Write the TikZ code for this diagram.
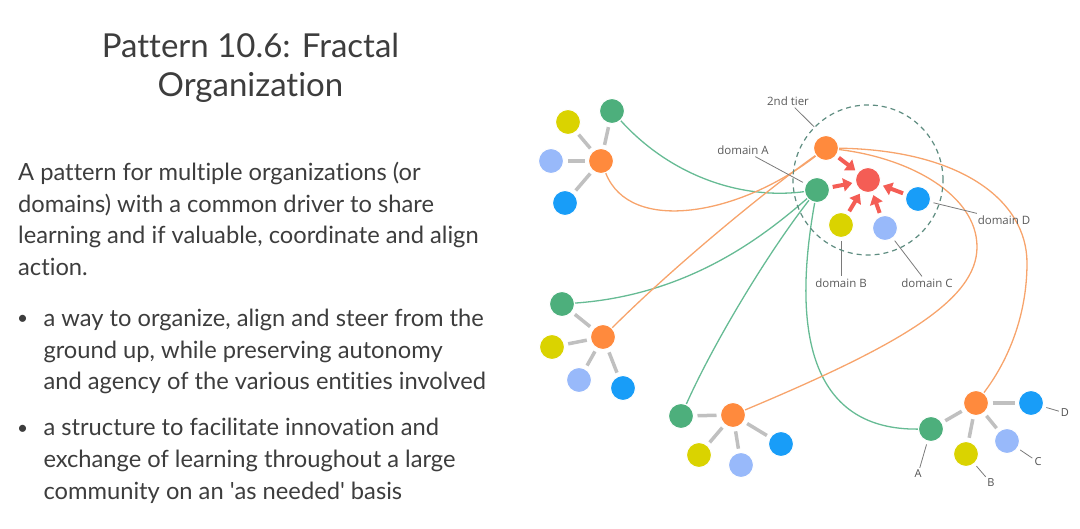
\documentclass[tikz,border=0pt]{standalone}
\usepackage{fontspec}
\setmainfont{Lato}[Ligatures={NoCommon}]
\newfontfamily\lblfont{Open Sans}
\usetikzlibrary{arrows.meta,backgrounds}
\definecolor{txt}{HTML}{3D3D3D}
\definecolor{cgreen}{HTML}{4DAF7C}
\definecolor{corange}{HTML}{FF8A3D}
\definecolor{cyellow}{HTML}{DAD300}
\definecolor{clblue}{HTML}{98B9FA}
\definecolor{cblue}{HTML}{189DF8}
\definecolor{cred}{HTML}{F45D55}
\definecolor{lgreen}{HTML}{66BB94}
\definecolor{lorange}{HTML}{F7A46C}
\definecolor{spokegray}{HTML}{C0C0C0}
\definecolor{ringcol}{HTML}{5E8C80}
\definecolor{lblline}{HTML}{7A7A7A}
\definecolor{lbltxt}{HTML}{5A5A5A}
\begin{document}
\begin{tikzpicture}[x=1pt,y=-1pt,
  body/.style={font=\fontsize{23.7}{30}\selectfont, text=txt, inner sep=0pt, anchor=base west},
  bul/.style={font=\fontsize{19}{30}\selectfont, text=txt, inner sep=0pt, anchor=base},
  ttl/.style={font=\fontsize{33}{38}\selectfont, text=txt, inner sep=0pt, anchor=base},
  dot/.style={circle, minimum size=25pt, inner sep=0pt, draw=white, line width=1pt},
  gdot/.style={dot, fill=cgreen},
  odot/.style={dot, fill=corange},
  ydot/.style={dot, fill=cyellow},
  ldot/.style={dot, fill=clblue},
  bdot/.style={dot, fill=cblue},
  rdot/.style={dot, fill=cred},
  spoke/.style={draw=spokegray, line width=3.5pt, shorten <=3.5pt, shorten >=3.5pt},
  glink/.style={draw=lgreen, line width=1.3pt},
  olink/.style={draw=lorange, line width=1.3pt},
  rarr/.style={draw=cred, line width=4pt, -{Triangle[length=9pt,width=13pt]}, shorten <=3pt, shorten >=3pt},
  lbl/.style={font=\lblfont\fontsize{11.5}{13}\selectfont, text=lbltxt, inner sep=2pt},
  sl/.style={font=\lblfont\fontsize{11}{13}\selectfont, text=txt!90, inner sep=2pt},
  lline/.style={draw=lblline, line width=0.8pt, shorten <=3pt},
  ring/.style={circle, minimum size=150pt, inner sep=0pt, draw=ringcol, line width=1.2pt, dash pattern=on 5pt off 4pt}
]
\useasboundingbox (0,0) rectangle (1080,529);

% ---- text ----
\node[ttl] (t1) at (250.5,57.3) {Pattern 10.6: Fractal};
\node[ttl] (t2) at (250.5,96.7) {Organization};
\node[body] (p1) at (18,180.7) {A pattern for multiple organizations (or};
\node[body] (p2) at (18,212.5) {domains) with a common driver to share};
\node[body] (p3) at (18,244) {learning and if valuable, coordinate and align};
\node[body] (p4) at (18,275.5) {action.};
\node[bul] (b1) at (22.7,325) {•};
\node[body] (b1a) at (43.3,326.7) {a way to organize, align and steer from the};
\node[body] (b1b) at (43.3,358.5) {ground up, while preserving autonomy};
\node[body] (b1c) at (43.3,390) {and agency of the various entities involved};
\node[bul] (b2) at (22.7,434.5) {•};
\node[body] (b2a) at (43.3,436) {a structure to facilitate innovation and};
\node[body] (b2b) at (43.3,467.5) {exchange of learning throughout a large};
\node[body] (b2c) at (43.3,499) {community on an \textquotesingle as needed\textquotesingle{} basis};

% ---- central ring ----
\node[ring] (ring) at (868,180) {};
\node[odot] (Oc) at (826,148) {};
\node[rdot] (R) at (868,180) {};
\node[gdot] (Gc) at (817,190) {};
\node[bdot] (Bc) at (918,199) {};
\node[ydot] (Yc) at (841,225) {};
\node[ldot] (Lc) at (885,228) {};

% ---- cluster 1 ----
\node[gdot] (G1) at (612,111) {};
\node[ydot] (Y1) at (568,122) {};
\node[ldot] (L1) at (551,161) {};
\node[odot] (O1) at (601,161) {};
\node[bdot] (B1) at (565,203) {};
% ---- cluster 2 ----
\node[gdot] (G2) at (562,304) {};
\node[odot] (O2) at (603,337) {};
\node[ydot] (Y2) at (552,347) {};
\node[ldot] (L2) at (579,380) {};
\node[bdot] (B2) at (623,388) {};
% ---- cluster 3 ----
\node[gdot] (G3) at (681,416) {};
\node[odot] (O3) at (733,415) {};
\node[ydot] (Y3) at (699,455) {};
\node[ldot] (L3) at (741,465) {};
\node[bdot] (B3) at (781,444) {};
% ---- cluster 4 ----
\node[odot] (O4) at (976,403) {};
\node[bdot] (B4) at (1031,403) {};
\node[gdot] (G4) at (931,429) {};
\node[ydot] (Y4) at (966,454) {};
\node[ldot] (L4) at (1007,441) {};

% ---- labels ----
\node[lbl] (l2) at (788,101) {2nd tier};
\node[lbl] (lA) at (743,150) {domain A};
\node[lbl] (lB) at (841,283) {domain B};
\node[lbl] (lC) at (927,283) {domain C};
\node[lbl] (lD) at (1004,220) {domain D};
\node[sl] (sA) at (918,474) {A};
\node[sl] (sB) at (991,483) {B};
\node[sl] (sC) at (1038,462) {C};
\node[sl] (sD) at (1065,413) {D};

\begin{scope}[on background layer]
  % spokes
  \foreach \c in {G1,Y1,L1,B1} \draw[spoke] (O1) -- (\c);
  \foreach \c in {G2,Y2,L2,B2} \draw[spoke] (O2) -- (\c);
  \foreach \c in {G3,Y3,L3,B3} \draw[spoke] (O3) -- (\c);
  \foreach \c in {G4,Y4,L4,B4} \draw[spoke] (O4) -- (\c);
  % green links
  \draw[glink] (G1) .. controls (670,175) and (740,200) .. (Gc);
  \draw[glink] (G2) .. controls (690,295) and (765,235) .. (Gc);
  \draw[glink] (G3) .. controls (715,340) and (770,250) .. (Gc);
  \draw[glink] (Gc) .. controls (790,340) and (815,430) .. (G4);
  % orange links
  \draw[olink] (O1) .. controls (630,235) and (740,215) .. (Oc);
  \draw[olink] (O2) .. controls (670,270) and (760,195) .. (Oc);
  \draw[olink] (Oc) .. controls (910,158) and (977,195) .. (977,247)
                    .. controls (977,300) and (900,345) .. (O3);
  \draw[olink] (Oc) .. controls (960,150) and (1027,200) .. (1027,263)
                    .. controls (1027,320) and (1005,365) .. (O4);
  % label lines
  \draw[lline, shorten <=0pt] (l2) -- (ring);
  \draw[lline] (Gc) -- (lA);
  \draw[lline] (Yc) -- (lB);
  \draw[lline] (Lc) -- (lC);
  \draw[lline] (Bc) -- (lD);
  \draw[lline] (G4) -- (sA);
  \draw[lline] (Y4) -- (sB);
  \draw[lline] (L4) -- (sC);
  \draw[lline] (B4) -- (sD);
\end{scope}

% ---- red arrows ----
\foreach \c in {Oc,Gc,Yc,Lc,Bc} \draw[rarr] (\c) -- (R);
\end{tikzpicture}
\end{document}
